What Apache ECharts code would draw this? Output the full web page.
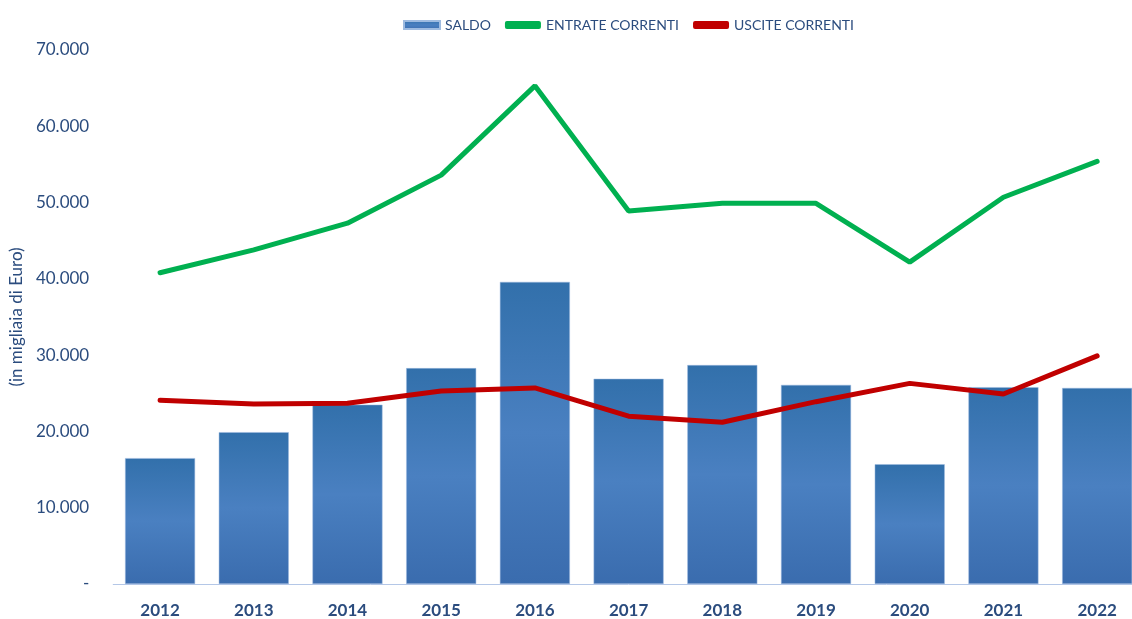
<!DOCTYPE html>
<html>
<head>
<meta charset="utf-8">
<script src="https://cdn.jsdelivr.net/npm/echarts@6/dist/echarts.min.js"></script>
<style>
  html, body { margin: 0; padding: 0; background: #fff; overflow: hidden; }
  #chart { width: 1144px; height: 619px; }
</style>
</head>
<body>
<div id="chart"></div>
<script>
const years = ['2012', '2013', '2014', '2015', '2016', '2017', '2018', '2019', '2020', '2021', '2022'];
const saldo = [16500, 19900, 23500, 28300, 39600, 26900, 28700, 26100, 15700, 25800, 25700];
const entrate = [40800, 43800, 47300, 53600, 65300, 48900, 49900, 49900, 42200, 50700, 55400];
const uscite = [24100, 23600, 23700, 25300, 25700, 22000, 21200, 23900, 26300, 24900, 29900];

const textColor = '#2b4c7e';
const font = 'Lato, "Open Sans", sans-serif';

const chart = echarts.init(document.getElementById('chart'));
chart.setOption({
    animation: false,
    textStyle: { fontFamily: font },
    legend: {
        top: 13,
        left: 398,
        itemGap: 14,
        itemWidth: 36,
        itemHeight: 8,
        textStyle: { color: textColor, fontSize: 14, fontFamily: font },
        data: [
            { name: 'SALDO', icon: 'rect' },
            { name: 'ENTRATE CORRENTI', icon: 'roundRect', itemStyle: { color: '#00b050' } },
            { name: 'USCITE CORRENTI', icon: 'roundRect', itemStyle: { color: '#c00000' } }
        ]
    },
    grid: { left: 113, right: 0, top: 50, bottom: 35 },
    xAxis: {
        type: 'category',
        data: years,
        axisLine: { lineStyle: { color: '#b4c7e7', width: 1 } },
        axisTick: { show: false },
        axisLabel: { color: textColor, fontSize: 17, fontWeight: 'bold', margin: 18, fontFamily: font }
    },
    yAxis: {
        type: 'value',
        min: 0,
        max: 70000,
        interval: 10000,
        name: '(in migliaia di Euro)',
        nameLocation: 'middle',
        nameRotate: 90,
        nameGap: 88,
        nameTextStyle: { color: textColor, fontSize: 17, fontFamily: font },
        splitLine: { show: false },
        axisLine: { show: false },
        axisTick: { show: false },
        axisLabel: {
            color: textColor,
            fontSize: 17,
            margin: 24,
            fontFamily: font,
            formatter: v => v === 0 ? '-' : (v / 1000) + '.000'
        }
    },
    series: [
        {
            name: 'SALDO',
            type: 'bar',
            data: saldo,
            barWidth: 70,
            itemStyle: {
                color: new echarts.graphic.LinearGradient(0, 0, 0, 1, [
                    { offset: 0, color: '#3270ab' },
                    { offset: 0.5, color: '#4a80c1' },
                    { offset: 1, color: '#3a6cae' }
                ]),
                borderColor: '#9ebbe0',
                borderWidth: 0.5
            }
        },
        {
            name: 'ENTRATE CORRENTI',
            type: 'line',
            data: entrate,
            symbol: 'none',
            lineStyle: { color: '#00b050', width: 5, cap: 'round' },
            itemStyle: { color: '#00b050' }
        },
        {
            name: 'USCITE CORRENTI',
            type: 'line',
            data: uscite,
            symbol: 'none',
            lineStyle: { color: '#c00000', width: 5, cap: 'round' },
            itemStyle: { color: '#c00000' }
        }
    ]
});
</script>
</body>
</html>
